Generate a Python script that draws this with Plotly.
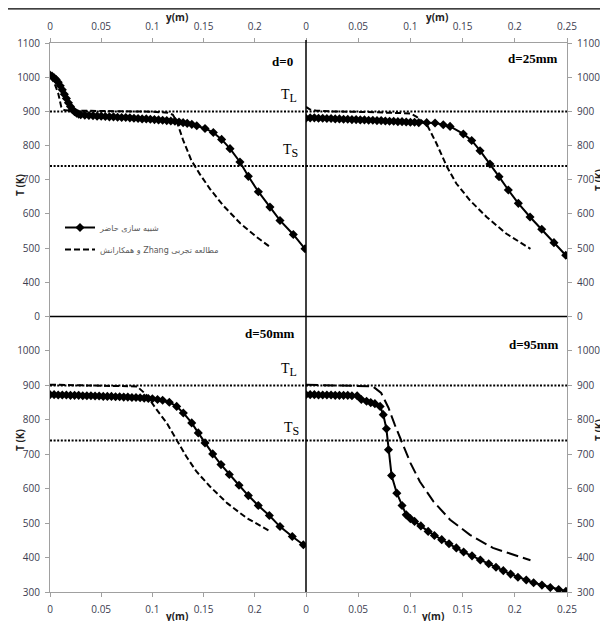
import plotly.graph_objects as go

# ---------------- data ----------------
T_LIQ = 900
T_SOL = 740

# d = 0
sim0_x = [0.000, 0.002, 0.004, 0.006, 0.008, 0.010, 0.012, 0.014, 0.016, 0.018, 0.020, 0.022, 0.024, 0.026, 0.028, 0.030,
          0.034, 0.038, 0.042, 0.046, 0.050, 0.054, 0.058, 0.062, 0.066, 0.070, 0.074, 0.078, 0.082, 0.086, 0.090, 0.094,
          0.098, 0.102, 0.106, 0.110, 0.114, 0.118, 0.122, 0.126, 0.130, 0.134, 0.1385, 0.1433, 0.1514, 0.1595, 0.1676,
          0.1758, 0.1855, 0.1937, 0.2035, 0.2148, 0.2246, 0.2376, 0.249]
sim0_T = [1006, 1003, 998, 993, 985, 975, 963, 950, 938, 925, 914, 905, 899, 895, 892, 890,
          889, 888, 887, 886, 886, 885, 884, 884, 883, 882, 882, 881, 880, 879, 878, 878,
          877, 876, 875, 874, 873, 872, 871, 869, 867, 865, 862, 858, 850, 838, 818,
          791, 752, 710, 665, 620, 581, 540, 498]
exp0_x = [0.000, 0.004, 0.008, 0.011, 0.013, 0.015, 0.030, 0.050, 0.080, 0.100, 0.115, 0.120, 0.124, 0.130, 0.138,
          0.146, 0.156, 0.169, 0.186, 0.202, 0.215]
exp0_T = [1001, 985, 953, 913, 905, 903, 902, 901, 900, 899, 896, 890, 869, 816, 757,
          718, 674, 625, 572, 532, 503]

# d = 25 mm
sim25_x = [0.000, 0.004, 0.008, 0.012, 0.016, 0.020, 0.024, 0.028, 0.032, 0.036, 0.040, 0.044, 0.048, 0.052, 0.056,
           0.060, 0.064, 0.068, 0.072, 0.076, 0.080, 0.084, 0.088, 0.092, 0.096, 0.100, 0.104, 0.108, 0.1156, 0.1236,
           0.1315, 0.138, 0.1507, 0.1587, 0.1667, 0.1762, 0.1849, 0.1938, 0.2034, 0.2146, 0.2258, 0.2375, 0.2488]
sim25_T = [880, 881, 881, 880, 880, 879, 879, 878, 878, 877, 877, 876, 876, 875, 875,
           874, 874, 873, 873, 872, 871, 871, 870, 870, 869, 868, 868, 867, 867, 866,
           861, 856, 834, 815, 785, 746, 709, 670, 631, 591, 555, 516, 479]
exp25_x = [0.000, 0.004, 0.010, 0.026, 0.060, 0.090, 0.100, 0.106, 0.116, 0.125, 0.135, 0.144, 0.157, 0.173, 0.192, 0.215]
exp25_T = [913, 905, 902, 900, 898, 896, 894, 884, 860, 806, 738, 689, 640, 591, 542, 498]

# d = 50 mm
sim50_x = [0.000, 0.004, 0.008, 0.012, 0.016, 0.020, 0.024, 0.028, 0.032, 0.036, 0.040, 0.044, 0.048, 0.052, 0.056,
           0.060, 0.064, 0.068, 0.072, 0.076, 0.080, 0.084, 0.088, 0.092, 0.096, 0.100, 0.105, 0.110, 0.1165,
           0.1237, 0.1302, 0.1384, 0.1448, 0.1514, 0.1589, 0.1670, 0.1751, 0.1846, 0.1937, 0.2034, 0.2142, 0.2246,
           0.2366, 0.2474]
sim50_T = [873, 873, 872, 872, 872, 871, 871, 871, 870, 870, 870, 869, 869, 868, 868,
           868, 867, 867, 866, 866, 865, 865, 864, 863, 862, 861, 859, 857, 851,
           839, 820, 791, 762, 733, 701, 670, 641, 610, 580, 551, 522, 490,
           461, 437]
exp50_x = [0.000, 0.020, 0.050, 0.085, 0.094, 0.104, 0.114, 0.124, 0.133, 0.143, 0.156, 0.173, 0.192, 0.215]
exp50_T = [902, 901, 900, 897, 873, 830, 791, 742, 694, 650, 607, 558, 515, 476]

# d = 95 mm
sim95_x = [0.000, 0.004, 0.008, 0.012, 0.016, 0.020, 0.024, 0.028, 0.032, 0.036, 0.040, 0.044, 0.049, 0.053, 0.058,
           0.062, 0.066, 0.071, 0.074, 0.077, 0.079, 0.082, 0.087, 0.092, 0.096, 0.100, 0.104, 0.110, 0.117, 0.123,
           0.130, 0.137, 0.144, 0.151, 0.159, 0.167, 0.175, 0.182, 0.189, 0.196, 0.203, 0.211, 0.218, 0.226, 0.234,
           0.242, 0.249]
sim95_T = [873, 873, 873, 872, 872, 872, 872, 871, 871, 871, 871, 870, 870, 859, 854,
           850, 847, 839, 815, 774, 713, 638, 587, 551, 524, 513, 505, 492, 476, 464,
           452, 440, 428, 416, 405, 393, 382, 372, 362, 352, 343, 335, 327, 320, 313,
           307, 302]
exp95_x = [0.000, 0.020, 0.040, 0.064, 0.072, 0.079, 0.085, 0.092, 0.100, 0.109, 0.122, 0.138, 0.157, 0.179, 0.199, 0.215]
exp95_T = [902, 901, 900, 897, 878, 835, 786, 733, 675, 621, 563, 510, 466, 428, 408, 392]

panel_labels = ["d=0", "d=25mm", "d=50mm", "d=95mm"]
name_sim = "شبیه سازی حاضر"
name_exp = "و همکارانش Zhang مطالعه تجربی"

x_ticks_left = [0, 0.05, 0.1, 0.15, 0.2]
x_ticks_right = [0, 0.05, 0.1, 0.15, 0.2, 0.25]
y_ticks_top = [300, 400, 500, 600, 700, 800, 900, 1000, 1100]
y_text_top = ["0", "400", "500", "600", "700", "800", "900", "1000", "1100"]
y_ticks_bot = [300, 400, 500, 600, 700, 800, 900, 1000]

# ---------------- figure ----------------
sims = [(sim0_x, sim0_T), (sim25_x, sim25_T), (sim50_x, sim50_T), (sim95_x, sim95_T)]
exps = [(exp0_x, exp0_T), (exp25_x, exp25_T), (exp50_x, exp50_T), (exp95_x, exp95_T)]
exp_dash = ["6px,3px", "6px,3px", "6px,3px", "12px,5px"]

fig = go.Figure()
for i in range(4):
    xa = "x" if i == 0 else f"x{i+1}"
    ya = "y" if i == 0 else f"y{i+1}"
    for lvl in (T_LIQ, T_SOL):
        fig.add_trace(go.Scatter(x=[0, 0.25], y=[lvl, lvl], mode="lines", xaxis=xa, yaxis=ya,
                                 line=dict(color="black", width=2, dash="2px,1.6px"),
                                 showlegend=False, hoverinfo="skip"))
    ex, eT = exps[i]
    fig.add_trace(go.Scatter(x=ex, y=eT, mode="lines", xaxis=xa, yaxis=ya, name=name_exp,
                             line=dict(color="black", width=2, dash=exp_dash[i]),
                             showlegend=(i == 0), legendgroup="exp", legendrank=2))
    sx, sT = sims[i]
    fig.add_trace(go.Scatter(x=sx, y=sT, mode="lines+markers", xaxis=xa, yaxis=ya, name=name_sim,
                             line=dict(color="black", width=2),
                             marker=dict(symbol="diamond", size=7, color="black"),
                             showlegend=(i == 0), legendgroup="sim", legendrank=1))

# page coords: the figure is placed at (8, 8) in the page by the default body margin
PW, PH = 517, 549  # plot area px
def px(xp):
    return (xp - 50) / PW
def py(yp):
    return (592 - yp) / PH

xsplit = px(306)
ysplit = py(316.5)
tickfont = dict(family="Open Sans", size=10, color="#3c3c50")
gray = "#a0a0a0"

def xax(dom, side, vals):
    return dict(domain=dom, range=[0, 0.25], side=side, tickvals=vals, ticktext=[f"{v:g}" for v in vals],
                showline=True, linecolor=gray, ticks="outside", ticklen=4, tickcolor=gray, automargin=False,
                showgrid=False, zeroline=False, tickfont=tickfont, ticklabelstandoff=4)

def yax(dom, side, vals, text, anchor):
    return dict(domain=dom, range=[300, 1100], side=side, tickvals=vals, ticktext=text,
                showline=True, linecolor=gray, ticks="outside", ticklen=4, tickcolor=gray, automargin=False,
                showgrid=False, zeroline=False, tickfont=tickfont, anchor=anchor, ticklabelstandoff=3)

layout = dict(
    width=600, height=613, margin=dict(l=42, r=41, t=35, b=29, autoexpand=False),
    plot_bgcolor="white", paper_bgcolor="white",
    xaxis=dict(**xax([0, xsplit], "top", x_ticks_left), anchor="y"),
    xaxis2=dict(**xax([xsplit, 1], "top", x_ticks_right), anchor="y2"),
    xaxis3=dict(**xax([0, xsplit], "bottom", x_ticks_left), anchor="y3"),
    xaxis4=dict(**xax([xsplit, 1], "bottom", x_ticks_right), anchor="y4"),
    yaxis=yax([ysplit, 1], "left", y_ticks_top, y_text_top, "x"),
    yaxis2=yax([ysplit, 1], "right", y_ticks_top, y_text_top, "x2"),
    yaxis3=yax([0, ysplit], "left", y_ticks_bot, [str(v) for v in y_ticks_bot], "x3"),
    yaxis4=yax([0, ysplit], "right", y_ticks_bot, [str(v) for v in y_ticks_bot], "x4"),
    legend=dict(x=px(60), y=py(213), xanchor="left", yanchor="top", bgcolor="rgba(0,0,0,0)",
                font=dict(family="DejaVu Sans", size=8, color="#595959"), tracegroupgap=3,
                itemwidth=30),
    showlegend=True,
)
fig.update_layout(**layout)

# dividers and page rule
shapes = [
    dict(type="line", xref="paper", yref="paper", x0=xsplit, x1=xsplit, y0=0, y1=py(40),
         line=dict(color="black", width=1.5)),
    dict(type="line", xref="paper", yref="paper", x0=0, x1=1, y0=ysplit, y1=ysplit,
         line=dict(color="black", width=1.5)),
    dict(type="line", xref="paper", yref="paper", x0=px(8), x1=px(608), y0=py(8.8), y1=py(8.8),
         line=dict(color="black", width=1.3)),
]
fig.update_layout(shapes=shapes)

serif = dict(family="Liberation Serif", size=13, color="black")
ann = []
for lab, (xp, yp) in zip(panel_labels, [(282, 61), (532, 59), (269, 333), (533, 344)]):
    ann.append(dict(text=f"<b>{lab}</b>", x=px(xp), y=py(yp), xref="paper", yref="paper",
                    showarrow=False, font=serif, xanchor="center", yanchor="middle"))
sub = "<sub><span style='font-size:12px'>%s</span></sub>"
for txt, (xp, yp) in [("T" + sub % "L", (289, 96)), ("T" + sub % "S", (290, 151)),
                      ("T" + sub % "L", (289, 370)), ("T" + sub % "S", (291, 429))]:
    ann.append(dict(text=txt, x=px(xp), y=py(yp), xref="paper", yref="paper", showarrow=False,
                    font=dict(family="Liberation Serif", size=14, color="black"),
                    xanchor="center", yanchor="middle"))
lblfont = dict(family="Open Sans", size=10, color="#222")
for xp, yp in [(177, 17), (437, 17), (177, 616), (433, 616)]:
    ann.append(dict(text="<b>y(m)</b>", x=px(xp), y=py(yp), xref="paper", yref="paper", showarrow=False,
                    font=lblfont, xanchor="center", yanchor="middle"))
for xp, yp in [(20, 185), (20, 440), (599, 180), (599, 430)]:
    ann.append(dict(text="<b>T (K)</b>", x=px(xp), y=py(yp), xref="paper", yref="paper", showarrow=False,
                    font=lblfont, textangle=-90, xanchor="center", yanchor="middle"))
fig.update_layout(annotations=ann)

fig.write_html("out.html")
